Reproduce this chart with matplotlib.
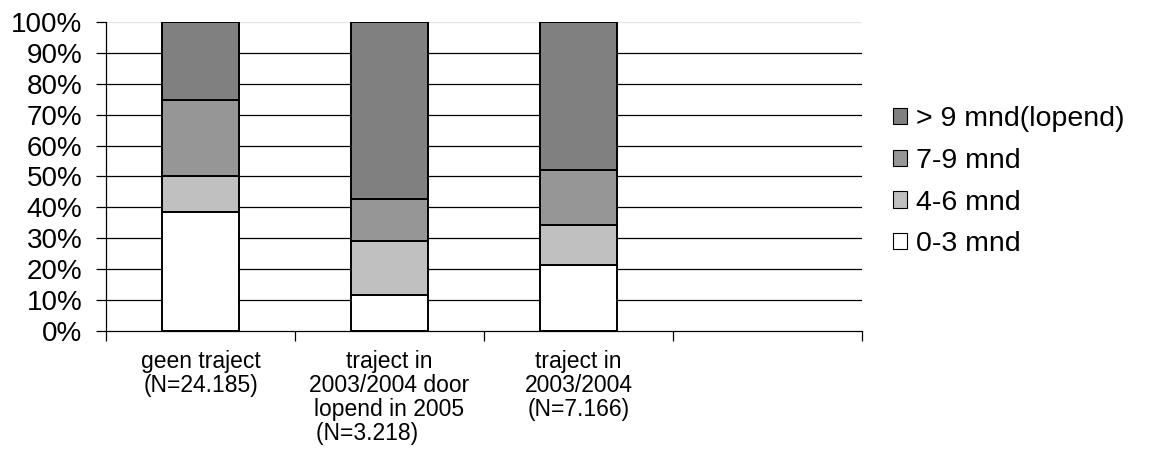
import numpy as np
import matplotlib.pyplot as plt
from matplotlib.patches import Patch

plt.rcParams['font.family'] = ['Liberation Sans', 'DejaVu Sans']

categories = ['geen traject\n(N=24.185)',
              'traject in\n2003/2004 door\nlopend in 2005\n(N=3.218)       ',
              'traject in\n2003/2004\n(N=7.166)',
              '']
series_names = ['0-3 mnd', '4-6 mnd', '7-9 mnd', '> 9 mnd(lopend)']
vals_0_3 = [38.6, 11.8, 21.3, 0]
vals_4_6 = [11.7, 17.2, 13.0, 0]
vals_7_9 = [24.4, 13.6, 17.8, 0]
vals_9plus = [25.3, 57.4, 47.9, 0]
colors = ['#ffffff', '#c0c0c0', '#969696', '#808080']

fig = plt.figure(figsize=(11.5, 4.66), dpi=100)
ax = fig.add_axes([0.0922, 0.2897, 0.6574, 0.6631])

x = np.arange(3)
bottom = np.zeros(3)
for vals, col in zip([vals_0_3, vals_4_6, vals_7_9, vals_9plus], colors):
    v = np.array(vals[:3]) / 100.0
    ax.bar(x, v, width=0.41, bottom=bottom, color=col, edgecolor='black',
           linewidth=1.4, zorder=3)
    bottom += v

ax.set_xlim(-0.5, 3.5)
ax.set_ylim(0, 1)
ax.set_yticks(np.linspace(0, 1, 11))
ax.set_yticklabels([f'{int(round(t * 100))}%' for t in np.linspace(0, 1, 11)],
                   fontsize=20)
for t in np.linspace(0.1, 0.9, 9):
    ax.axhline(t, color='black', linewidth=0.9, zorder=1)
ax.axhline(1.0, color='#e6e6e6', linewidth=0.9, zorder=1)

ax.set_xticks(np.arange(4))
ax.set_xticklabels(categories, fontsize=16.5, linespacing=1.05)
ax.tick_params(axis='x', which='major', length=0, pad=14)
ax.set_xticks(np.arange(-0.5, 4.0, 1.0), minor=True)
ax.tick_params(axis='x', which='minor', length=7, width=0.9, direction='out')
ax.tick_params(axis='y', length=7, width=0.9, direction='out', pad=10)
for lab in ax.get_xticklabels():
    lab.set_verticalalignment('top')

for s in ['top', 'right']:
    ax.spines[s].set_visible(False)
for s in ['left', 'bottom']:
    ax.spines[s].set_linewidth(0.9)
    ax.spines[s].set_zorder(4)

handles = [Patch(facecolor=c, edgecolor='black', linewidth=0.8)
           for c in colors[::-1]]
fig.legend(handles, series_names[::-1], loc='center left',
           bbox_to_anchor=(0.7665, 0.61), frameon=False, fontsize=20.5,
           handlelength=0.5, handleheight=0.5, handletextpad=0.3,
           labelspacing=0.55, borderaxespad=0)

fig.savefig('out.png', dpi=100)
